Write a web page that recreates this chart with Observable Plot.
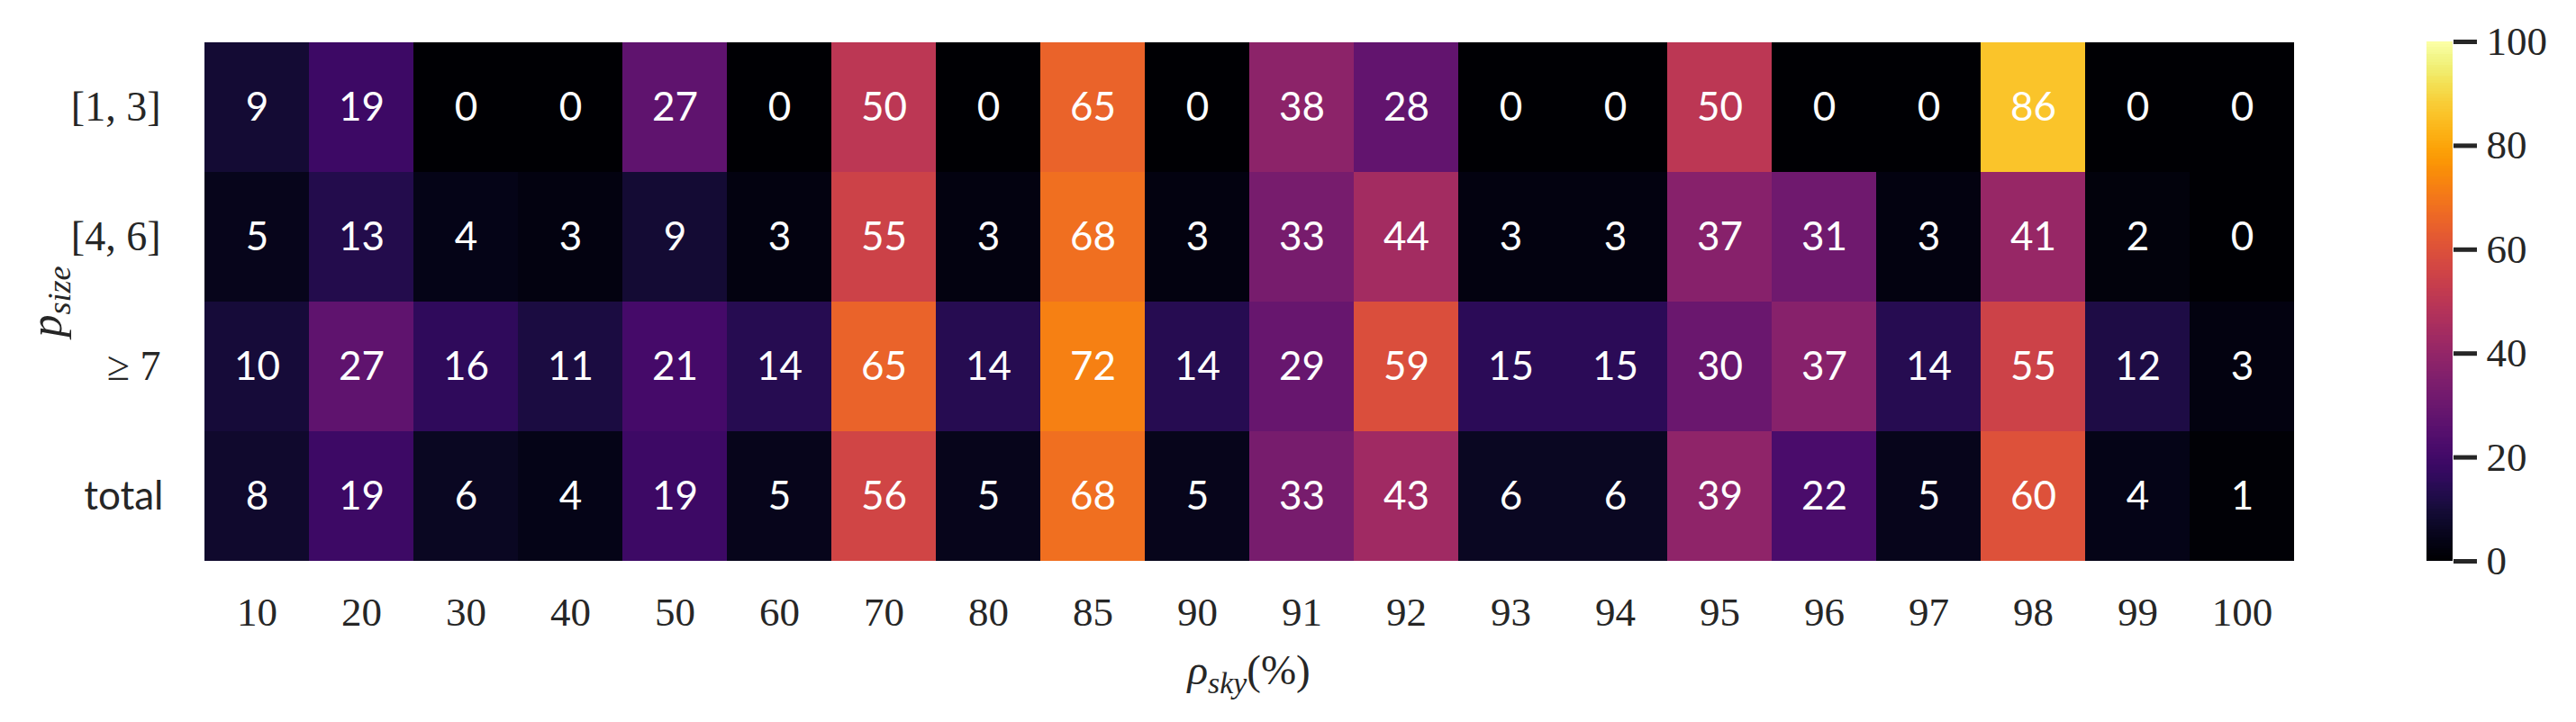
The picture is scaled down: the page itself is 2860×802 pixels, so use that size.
<!DOCTYPE html>
<html>
<head>
<meta charset="utf-8">
<script src="https://cdn.jsdelivr.net/npm/d3@7"></script>
<script src="https://cdn.jsdelivr.net/npm/@observablehq/plot@0.6"></script>
<style>
  html, body { margin: 0; padding: 0; background: #fff; }
  #wrap { position: relative; width: 2860px; height: 802px; overflow: hidden; }
  #wrap svg { position: absolute; top: 0; }
  .lbl { position: absolute; font-family: "Liberation Serif", serif; color: #262626; white-space: nowrap; }
  .lbl i { font-style: italic; }
  .lbl sub { font-size: 0.72em; vertical-align: -0.3em; line-height: 0; }
</style>
</head>
<body>
<div id="wrap"></div>
<script>
// ---- data ----
const cols = ["10","20","30","40","50","60","70","80","85","90","91","92","93","94","95","96","97","98","99","100"];
const rows = ["[1, 3]", "[4, 6]", "≥ 7", "total"];
const row13  = [9,19,0,0,27,0,50,0,65,0,38,28,0,0,50,0,0,86,0,0];
const row46  = [5,13,4,3,9,3,55,3,68,3,33,44,3,3,37,31,3,41,2,0];
const row7   = [10,27,16,11,21,14,65,14,72,14,29,59,15,15,30,37,14,55,12,3];
const rowTot = [8,19,6,4,19,5,56,5,68,5,33,43,6,6,39,22,5,60,4,1];
const colorTicks = [0,20,40,60,80,100];
const colorDomain = [0,100];

const series = [row13, row46, row7, rowTot];
const table = rows.flatMap((r, i) => cols.map((c, j) => ({row: r, col: c, v: series[i][j]})));

const serif = "Liberation Serif, DejaVu Serif, serif";
const sans = "Lato, Open Sans, sans-serif";
const ink = "#262626";

const W = 2860, H = 802;
const mL = 224, mR = 311, mT = 46, mB = 179;

const main = Plot.plot({
  width: W, height: H,
  marginLeft: mL, marginRight: mR, marginTop: mT, marginBottom: mB,
  style: {background: "transparent", overflow: "visible"},
  x: {domain: cols, padding: 0, label: null},
  y: {domain: rows, padding: 0, label: null},
  color: {type: "linear", scheme: "inferno", domain: colorDomain},
  marks: [
    Plot.cell(table, {x: "col", y: "row", fill: "v", shapeRendering: "crispEdges"}),
    Plot.text(table, {x: "col", y: "row", text: d => String(d.v), fill: "white",
      fontSize: 44, fontFamily: sans}),
    Plot.axisX({tickSize: 0, tickPadding: 40, fontSize: 45, fontFamily: serif, fill: ink, label: null}),
    Plot.axisY({ticks: rows.slice(0, 3), tickSize: 0, tickPadding: 46, fontSize: 46, fontFamily: serif, fill: ink, label: null}),
    Plot.axisY({ticks: rows.slice(3), tickSize: 0, tickPadding: 43, fontSize: 44, fontFamily: sans, fill: ink, label: null})
  ]
});

// colorbar
const cbLeft = 2694, cbW = 29;
const steps = d3.range(colorDomain[0], colorDomain[1], 0.5);
const cb = Plot.plot({
  width: W - cbLeft, height: H,
  marginLeft: 0, marginRight: W - cbLeft - cbW, marginTop: mT, marginBottom: mB,
  style: {background: "transparent", overflow: "visible"},
  x: {domain: [0, 1], axis: null},
  y: {domain: colorDomain, label: null},
  color: {type: "linear", scheme: "inferno", domain: colorDomain},
  marks: [
    Plot.rect(steps, {x1: 0, x2: 1, y1: d => d, y2: d => Math.min(d + 0.6, colorDomain[1]), fill: d => d + 0.25, shapeRendering: "crispEdges"}),
    Plot.axisY({anchor: "right", ticks: colorTicks, tickSize: 26, strokeWidth: 5, stroke: ink, tickPadding: 11,
      fontSize: 45, fontFamily: serif, fill: ink, label: null})
  ]
});
cb.style.left = cbLeft + "px";

const wrap = document.getElementById("wrap");
main.style.left = "0px";
wrap.appendChild(main);
wrap.appendChild(cb);

// axis titles (with subscripts)
const xl = document.createElement("div");
xl.className = "lbl";
xl.style.fontSize = "47px";
xl.innerHTML = "<i>ρ</i><sub><i>sky</i></sub>(%)";
wrap.appendChild(xl);
const xc = (mL + (W - mR)) / 2;
xl.style.left = (xc - xl.offsetWidth / 2) + "px";
xl.style.top = (757 - 40) + "px";

const yl = document.createElement("div");
yl.className = "lbl";
yl.style.fontSize = "50px";
yl.innerHTML = "<i>p</i><sub><i>size</i></sub>";
wrap.appendChild(yl);
const yc = (mT + (H - mB)) / 2;
yl.style.transformOrigin = "center center";
yl.style.left = (50 - yl.offsetWidth / 2) + "px";
yl.style.top = (yc - yl.offsetHeight / 2) + "px";
yl.style.transform = "rotate(-90deg)";
</script>
</body>
</html>
